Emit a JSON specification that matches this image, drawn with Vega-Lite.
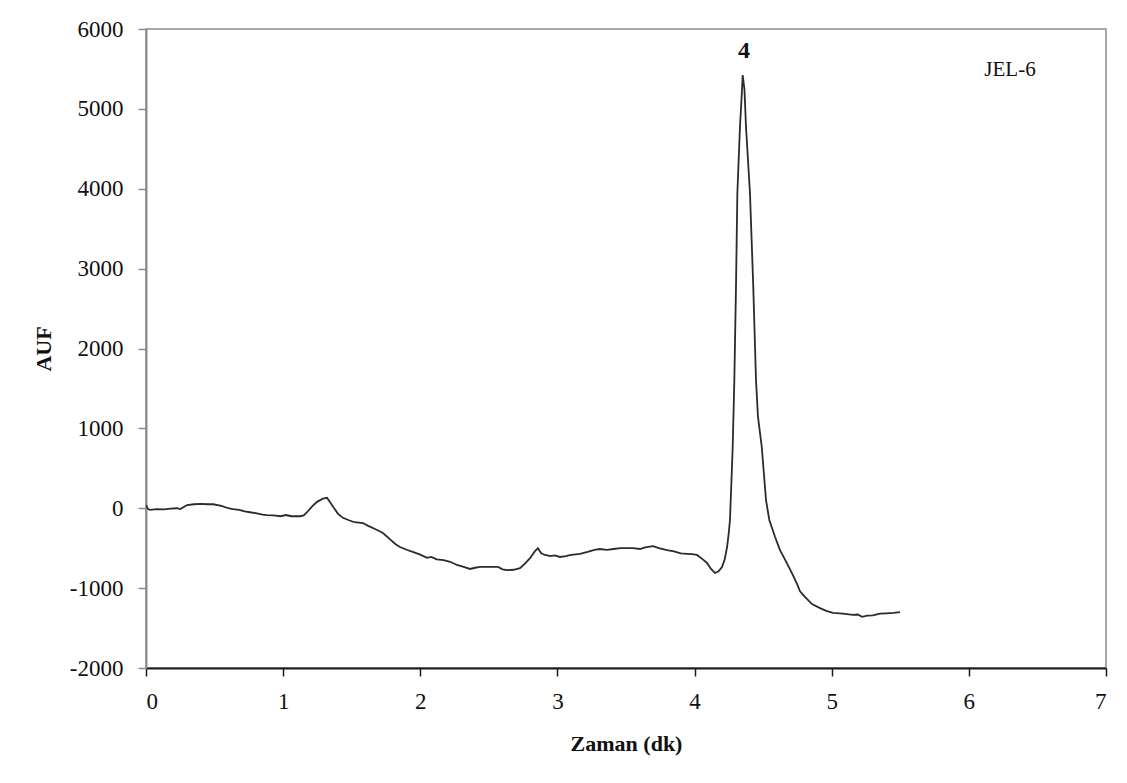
{
  "$schema": "https://vega.github.io/schema/vega-lite/v6.json",
  "width": 960,
  "height": 639,
  "autosize": {"type": "none"},
  "padding": {"left": 146, "top": 29, "right": 21, "bottom": 115},
  "background": "white",
  "config": {
    "font": "Liberation Serif",
    "view": {"stroke": "#8c8c8c", "strokeWidth": 1.5}
  },
  "datasets": {
    "trace": [
      {"t": 0.000, "auf": 40}, {"t": 0.015, "auf": -10}, {"t": 0.03, "auf": -20}, {"t": 0.08, "auf": -10},
      {"t": 0.13, "auf": -15}, {"t": 0.18, "auf": -5}, {"t": 0.226, "auf": 0}, {"t": 0.25, "auf": -10},
      {"t": 0.30, "auf": 40}, {"t": 0.35, "auf": 50}, {"t": 0.40, "auf": 55}, {"t": 0.45, "auf": 50},
      {"t": 0.49, "auf": 50}, {"t": 0.55, "auf": 30}, {"t": 0.60, "auf": 0}, {"t": 0.634, "auf": -10},
      {"t": 0.68, "auf": -20}, {"t": 0.72, "auf": -40}, {"t": 0.758, "auf": -50}, {"t": 0.80, "auf": -60},
      {"t": 0.85, "auf": -80}, {"t": 0.882, "auf": -85}, {"t": 0.93, "auf": -90}, {"t": 0.98, "auf": -100},
      {"t": 1.02, "auf": -85}, {"t": 1.06, "auf": -100}, {"t": 1.123, "auf": -100}, {"t": 1.15, "auf": -90},
      {"t": 1.174, "auf": -50}, {"t": 1.21, "auf": 20}, {"t": 1.247, "auf": 80}, {"t": 1.29, "auf": 120},
      {"t": 1.32, "auf": 130}, {"t": 1.345, "auf": 70}, {"t": 1.364, "auf": 20}, {"t": 1.40, "auf": -70},
      {"t": 1.436, "auf": -120}, {"t": 1.48, "auf": -150}, {"t": 1.52, "auf": -175}, {"t": 1.582, "auf": -185},
      {"t": 1.62, "auf": -220}, {"t": 1.67, "auf": -260}, {"t": 1.728, "auf": -310}, {"t": 1.78, "auf": -390},
      {"t": 1.82, "auf": -450}, {"t": 1.852, "auf": -485}, {"t": 1.90, "auf": -520}, {"t": 1.95, "auf": -550},
      {"t": 2.00, "auf": -580}, {"t": 2.049, "auf": -620}, {"t": 2.08, "auf": -610}, {"t": 2.12, "auf": -640},
      {"t": 2.17, "auf": -650}, {"t": 2.217, "auf": -670}, {"t": 2.268, "auf": -710}, {"t": 2.31, "auf": -730},
      {"t": 2.363, "auf": -760}, {"t": 2.40, "auf": -745}, {"t": 2.435, "auf": -735}, {"t": 2.50, "auf": -735},
      {"t": 2.567, "auf": -735}, {"t": 2.60, "auf": -765}, {"t": 2.632, "auf": -775}, {"t": 2.68, "auf": -770},
      {"t": 2.727, "auf": -750}, {"t": 2.765, "auf": -690}, {"t": 2.80, "auf": -625}, {"t": 2.835, "auf": -540},
      {"t": 2.858, "auf": -500}, {"t": 2.88, "auf": -560}, {"t": 2.909, "auf": -585}, {"t": 2.95, "auf": -600},
      {"t": 2.98, "auf": -590}, {"t": 3.019, "auf": -610}, {"t": 3.06, "auf": -600}, {"t": 3.10, "auf": -585},
      {"t": 3.165, "auf": -570}, {"t": 3.22, "auf": -545}, {"t": 3.27, "auf": -520}, {"t": 3.31, "auf": -510},
      {"t": 3.36, "auf": -520}, {"t": 3.41, "auf": -510}, {"t": 3.46, "auf": -500}, {"t": 3.507, "auf": -500},
      {"t": 3.55, "auf": -500}, {"t": 3.602, "auf": -510}, {"t": 3.64, "auf": -490}, {"t": 3.697, "auf": -475},
      {"t": 3.74, "auf": -500}, {"t": 3.799, "auf": -525}, {"t": 3.85, "auf": -540}, {"t": 3.90, "auf": -565},
      {"t": 3.945, "auf": -570}, {"t": 3.98, "auf": -575}, {"t": 4.018, "auf": -585}, {"t": 4.06, "auf": -640},
      {"t": 4.091, "auf": -685}, {"t": 4.12, "auf": -760}, {"t": 4.149, "auf": -810}, {"t": 4.175, "auf": -790},
      {"t": 4.20, "auf": -735}, {"t": 4.22, "auf": -640}, {"t": 4.237, "auf": -485}, {"t": 4.25, "auf": -300},
      {"t": 4.258, "auf": -147}, {"t": 4.268, "auf": 300}, {"t": 4.278, "auf": 767}, {"t": 4.290, "auf": 1606},
      {"t": 4.302, "auf": 2770}, {"t": 4.312, "auf": 3947}, {"t": 4.331, "auf": 4773}, {"t": 4.342, "auf": 5111},
      {"t": 4.351, "auf": 5424}, {"t": 4.364, "auf": 5237}, {"t": 4.375, "auf": 4773}, {"t": 4.404, "auf": 3947},
      {"t": 4.428, "auf": 2770}, {"t": 4.448, "auf": 1606}, {"t": 4.462, "auf": 1150}, {"t": 4.490, "auf": 767},
      {"t": 4.521, "auf": 100}, {"t": 4.545, "auf": -147}, {"t": 4.587, "auf": -360}, {"t": 4.623, "auf": -525},
      {"t": 4.674, "auf": -690}, {"t": 4.718, "auf": -840}, {"t": 4.75, "auf": -960}, {"t": 4.769, "auf": -1040},
      {"t": 4.805, "auf": -1110}, {"t": 4.856, "auf": -1200}, {"t": 4.915, "auf": -1250}, {"t": 4.96, "auf": -1285},
      {"t": 5.009, "auf": -1310}, {"t": 5.08, "auf": -1320}, {"t": 5.155, "auf": -1335}, {"t": 5.19, "auf": -1330},
      {"t": 5.221, "auf": -1360}, {"t": 5.26, "auf": -1345}, {"t": 5.30, "auf": -1340}, {"t": 5.352, "auf": -1320},
      {"t": 5.40, "auf": -1315}, {"t": 5.45, "auf": -1310}, {"t": 5.498, "auf": -1300}
    ],
    "labels": [
      {"t": 4.36, "auf": 5720, "txt": "4", "kind": "peak"},
      {"t": 6.30, "auf": 5490, "txt": "JEL-6", "kind": "name"}
    ]
  },
  "layer": [
    {
      "data": {"name": "trace"},
      "mark": {"type": "line", "color": "#2b2b2b", "strokeWidth": 1.8, "clip": true},
      "encoding": {
        "x": {
          "field": "t", "type": "quantitative",
          "scale": {"domain": [0, 7], "nice": false, "zero": false},
          "axis": {
            "title": "Zaman (dk)", "values": [0, 1, 2, 3, 4, 5, 6, 7], "labelExpr": "'' + datum.value",
            "grid": false, "domainColor": "#1a1a1a", "domainWidth": 2,
            "tickColor": "#1a1a1a", "tickWidth": 1.5, "tickSize": 8,
            "labelFont": "Liberation Serif", "labelFontSize": 23, "labelColor": "#111", "labelPadding": 14,
            "titleFont": "Liberation Serif", "titleFontSize": 22, "titleFontWeight": "bold", "titleColor": "#111",
            "titlePadding": 20
          }
        },
        "y": {
          "field": "auf", "type": "quantitative",
          "scale": {"domain": [-2000, 6000], "nice": false, "zero": false},
          "axis": {
            "title": "AUF", "values": [-2000, -1000, 0, 1000, 2000, 3000, 4000, 5000, 6000], "labelExpr": "'' + datum.value",
            "grid": false, "domainColor": "#8c8c8c", "domainWidth": 2,
            "tickColor": "#8c8c8c", "tickWidth": 1.5, "tickSize": 8,
            "labelFont": "Liberation Serif", "labelFontSize": 23, "labelColor": "#111", "labelPadding": 15,
            "titleFont": "Liberation Serif", "titleFontSize": 22, "titleFontWeight": "bold", "titleColor": "#111",
            "titlePadding": 14
          }
        }
      }
    },
    {
      "data": {"name": "labels"},
      "transform": [{"filter": "datum.kind === 'peak'"}],
      "mark": {"type": "text", "font": "Liberation Serif", "fontSize": 24, "fontWeight": "bold", "color": "#111", "baseline": "middle", "align": "center"},
      "encoding": {
        "x": {"field": "t", "type": "quantitative"},
        "y": {"field": "auf", "type": "quantitative"},
        "text": {"field": "txt"}
      }
    },
    {
      "data": {"name": "labels"},
      "transform": [{"filter": "datum.kind === 'name'"}],
      "mark": {"type": "text", "font": "Liberation Serif", "fontSize": 21, "color": "#111", "baseline": "middle", "align": "center"},
      "encoding": {
        "x": {"field": "t", "type": "quantitative"},
        "y": {"field": "auf", "type": "quantitative"},
        "text": {"field": "txt"}
      }
    }
  ]
}
